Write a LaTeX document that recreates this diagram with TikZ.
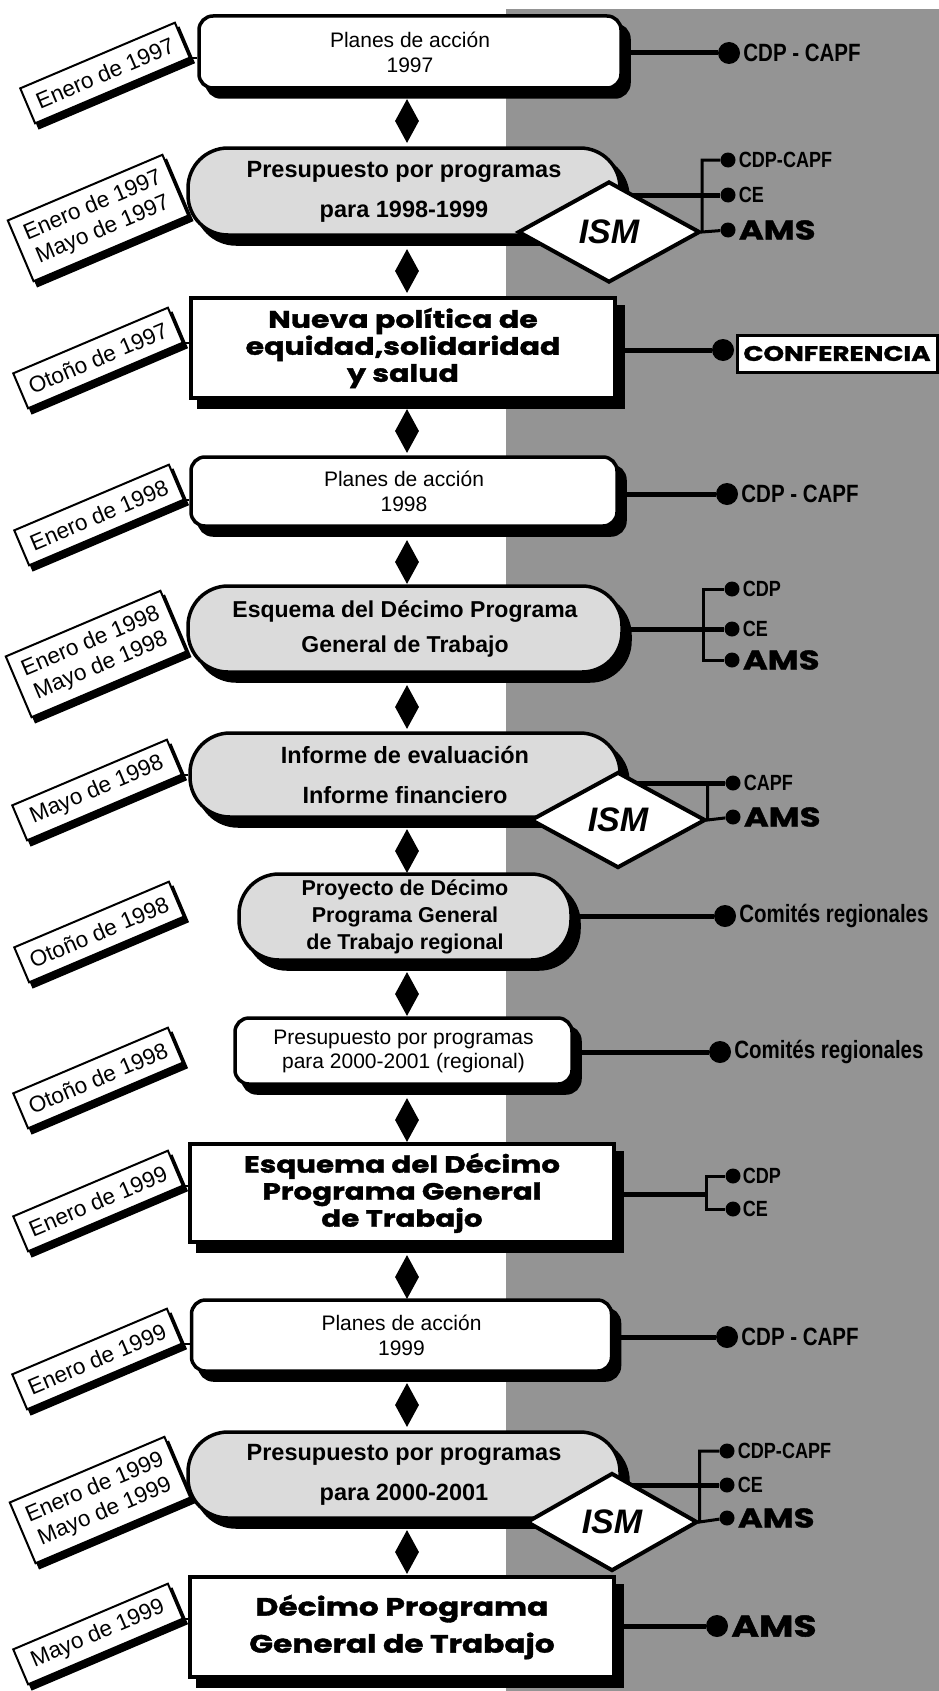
\documentclass[tikz,border=0pt]{standalone}
\usepackage{fontspec}
\setmainfont{Liberation Sans}
\newfontfamily\condfont{Liberation Sans}[FakeStretch=0.82]
\newfontfamily\heavyfont{Poppins}[FakeStretch=1.25, BoldFeatures={FakeBold=1.5}]
\usetikzlibrary{shapes.geometric,shadows}
\pgfdeclarelayer{bg}
\pgfdeclarelayer{lines}
\pgfsetlayers{bg,lines,main}
\definecolor{bggray}{gray}{0.58}
\definecolor{pillgray}{gray}{0.86}
\tikzset{
  box/.style={draw, line width=3.5pt, fill=white, align=center, inner sep=0pt,
     general shadow={draw=black, fill=black, opacity=1, shadow xshift=8pt, shadow yshift=-9pt}},
  planbox/.style={box, rounded corners=14pt, font=\fontsize{21}{25}\selectfont},
  pillbox/.style={box, rounded corners=40pt, fill=pillgray, font=\bfseries\fontsize{23.5}{40}\selectfont},
  rectbox/.style={box, line width=4pt},
  heavy/.style={font=\heavyfont\bfseries\fontsize{#1}{27}\selectfont},
  link/.style={diamond, fill=black, draw=none, inner sep=0pt, minimum width=24pt, minimum height=44pt},
  ism/.style={diamond, aspect=1.8, draw, line width=4pt, fill=white, inner sep=0pt, font=\bfseries\itshape\fontsize{34}{34}\selectfont},
  bigdot/.style={circle, fill=black, inner sep=0pt, minimum size=22pt},
  smalldot/.style={circle, fill=black, inner sep=0pt, minimum size=15pt},
  conn/.style={line width=5pt},
  brk/.style={line width=3pt},
  who/.style={anchor=west, inner sep=0pt, font=\condfont\bfseries\fontsize{25}{25}\selectfont},
  whosm/.style={anchor=west, inner sep=0pt, font=\condfont\bfseries\fontsize{22}{22}\selectfont},
  whoheavy/.style={anchor=west, inner sep=0pt, font=\heavyfont\bfseries\fontsize{27}{27}\selectfont},
  datebox/.style={draw, line width=2pt, fill=white, rotate=23, align=center, inner sep=0pt,
     minimum width=168pt, font=\fontsize{22.5}{26}\selectfont,
     general shadow={draw=black, fill=black, opacity=1, shadow xshift=4pt, shadow yshift=-5pt}},
  tick/.style={line width=1.5pt},
  confbox/.style={draw, line width=3pt, fill=white, inner sep=0pt, minimum width=200pt, minimum height=37pt,
     font=\heavyfont\bfseries\fontsize{21}{21}\selectfont}
}
\begin{document}
\begin{tikzpicture}[x=1pt,y=1pt]
\useasboundingbox (0,0) rectangle (939,-1691);
\begin{pgfonlayer}{bg}
\fill[bggray] (506,-9) rectangle (939,-1691);
\end{pgfonlayer}

% main boxes
\node[planbox, minimum width=422pt, minimum height=72pt] (b1) at (410,-52) {Planes de acción\\1997};
\node[pillbox, minimum width=432pt, minimum height=87pt] (b2) at (404,-191.5) {Presupuesto por programas\\para 1998-1999};
\node[rectbox, minimum width=424pt, minimum height=100pt, heavy=24] (b3) at (403,-348) {Nueva política de\\equidad,solidaridad\\y salud};
\node[planbox, minimum width=426pt, minimum height=69pt] (b4) at (404,-491.5) {Planes de acción\\1998};
\node[pillbox, minimum width=434pt, minimum height=86pt, font=\bfseries\fontsize{23}{35}\selectfont] (b5) at (405,-629) {Esquema del Décimo Programa\\General de Trabajo};
\node[pillbox, minimum width=430pt, minimum height=84pt, font=\bfseries\fontsize{23.5}{40}\selectfont] (b6) at (405,-775) {Informe de evaluación\\Informe financiero};
\node[pillbox, minimum width=332pt, minimum height=86pt, font=\bfseries\fontsize{21.5}{27}\selectfont] (b7) at (405,-917) {Proyecto de Décimo\\Programa General\\de Trabajo regional};
\node[planbox, minimum width=337pt, minimum height=66pt, font=\fontsize{21}{24}\selectfont] (b8) at (403.5,-1051) {Presupuesto por programas\\para 2000-2001 (regional)};
\node[rectbox, minimum width=424pt, minimum height=98pt, heavy=23.5] (b9) at (402,-1193) {Esquema del Décimo\\Programa General\\de Trabajo};
\node[planbox, minimum width=420pt, minimum height=71pt] (b10) at (401.5,-1335.5) {Planes de acción\\1999};
\node[pillbox, minimum width=432pt, minimum height=86pt] (b11) at (404,-1475) {Presupuesto por programas\\para 2000-2001};
\node[rectbox, minimum width=424pt, minimum height=100pt, font=\heavyfont\bfseries\fontsize{25}{37}\selectfont] (b12) at (402,-1627) {Décimo Programa\\General de Trabajo};

% links between boxes
\node[link] (k1) at (407,-121) {};
\node[link] (k2) at (407,-271) {};
\node[link] (k3) at (407,-431) {};
\node[link] (k4) at (407,-562) {};
\node[link] (k5) at (407,-707) {};
\node[link] (k6) at (407,-851) {};
\node[link] (k7) at (407,-994) {};
\node[link] (k8) at (407,-1120) {};
\node[link] (k9) at (407,-1277) {};
\node[link] (k10) at (407,-1405) {};
\node[link] (k11) at (407,-1552) {};

% ISM diamonds
\node[ism, minimum width=182pt, minimum height=101pt] (i1) at (609,-232) {ISM};
\node[ism, minimum width=175pt, minimum height=96pt] (i2) at (618,-820) {ISM};
\node[ism, minimum width=171pt, minimum height=98pt] (i3) at (612,-1522) {ISM};

% right side participants
\node[bigdot] (r1) at (729,-53) {};
\node[who] (n1) at ([xshift=3pt]r1.east) {CDP - CAPF};

\node[smalldot] (s2a) at (728,-160) {};
\node[smalldot] (s2b) at (728,-195) {};
\node[smalldot] (s2c) at (728,-230) {};
\node[whosm] (n2a) at ([xshift=3pt]s2a.east) {CDP-CAPF};
\node[whosm] (n2b) at ([xshift=3pt]s2b.east) {CE};
\node[whoheavy] (n2c) at ([xshift=3pt]s2c.east) {AMS};

\node[bigdot] (r3) at (723,-350) {};
\node[confbox] (cf) at (837,-353.5) {CONFERENCIA};

\node[bigdot] (r4) at (727,-494) {};
\node[who] (n4) at ([xshift=3pt]r4.east) {CDP - CAPF};

\node[smalldot] (s5a) at (732,-589) {};
\node[smalldot] (s5b) at (732,-629) {};
\node[smalldot] (s5c) at (732,-660) {};
\node[whosm] (n5a) at ([xshift=3pt]s5a.east) {CDP};
\node[whosm] (n5b) at ([xshift=3pt]s5b.east) {CE};
\node[whoheavy] (n5c) at ([xshift=3pt]s5c.east) {AMS};

\node[smalldot] (s6a) at (733,-783) {};
\node[smalldot] (s6b) at (733,-817) {};
\node[whosm] (n6a) at ([xshift=3pt]s6a.east) {CAPF};
\node[whoheavy] (n6b) at ([xshift=3pt]s6b.east) {AMS};

\node[bigdot] (r7) at (725,-916) {};
\node[who] (n7) at ([xshift=3pt]r7.east) {Comités regionales};

\node[bigdot] (r8) at (720,-1052) {};
\node[who] (n8) at ([xshift=3pt]r8.east) {Comités regionales};

\node[smalldot] (s9a) at (733,-1176) {};
\node[smalldot] (s9b) at (733,-1209) {};
\node[whosm] (n9a) at ([xshift=2pt]s9a.east) {CDP};
\node[whosm] (n9b) at ([xshift=2pt]s9b.east) {CE};

\node[bigdot] (r10) at (727,-1337) {};
\node[who] (n10) at ([xshift=3pt]r10.east) {CDP - CAPF};

\node[smalldot] (s11a) at (727,-1451) {};
\node[smalldot] (s11b) at (727,-1485) {};
\node[smalldot] (s11c) at (727,-1518) {};
\node[whosm] (n11a) at ([xshift=3pt]s11a.east) {CDP-CAPF};
\node[whosm] (n11b) at ([xshift=3pt]s11b.east) {CE};
\node[whoheavy] (n11c) at ([xshift=3pt]s11c.east) {AMS};

\node[bigdot] (r12) at (717,-1626) {};
\node[whoheavy, font=\heavyfont\bfseries\fontsize{30}{30}\selectfont] (n12) at ([xshift=3pt]r12.east) {AMS};

% date labels
\node[datebox, minimum height=38pt] (t1) at (105,-73) {Enero de 1997};
\node[datebox, minimum height=66pt] (t2) at (98,-218) {Enero de 1997\\Mayo de 1997};
\node[datebox, minimum height=38pt] (t3) at (98,-358) {Otoño de 1997};
\node[datebox, minimum height=38pt] (t4) at (99,-515) {Enero de 1998};
\node[datebox, minimum height=66pt] (t5) at (96,-654) {Enero de 1998\\Mayo de 1998};
\node[datebox, minimum height=38pt] (t6) at (97,-790) {Mayo de 1998};
\node[datebox, minimum height=38pt] (t7) at (99,-932) {Otoño de 1998};
\node[datebox, minimum height=38pt] (t8) at (98,-1078) {Otoño de 1998};
\node[datebox, minimum height=38pt] (t9) at (98,-1201) {Enero de 1999};
\node[datebox, minimum height=38pt] (t10) at (97,-1359) {Enero de 1999};
\node[datebox, minimum height=66pt] (t11) at (100,-1500) {Enero de 1999\\Mayo de 1999};
\node[datebox, minimum height=38pt] (t12) at (98,-1634) {Mayo de 1999};

% connectors
\begin{pgfonlayer}{lines}
\draw[conn] (b1.east |- r1) -- (r1);
\draw[conn] (b2.east |- s2b) -- (s2b);
\draw[brk] (s2a) -| (i1.east) -- (s2c);
\draw[conn] (b3.east |- r3) -- (r3);
\draw[conn] (b4.east |- r4) -- (r4);
\coordinate (j5) at (703,-629);
\draw[conn] (b5.east |- s5b) -- (s5b);
\draw[brk] (s5a) -| (j5) |- (s5c);
\draw[conn] (b6.east |- s6a) -- (s6a);
\draw[brk] (s6a) -| (i2.east) -- (s6b);
\draw[conn] (b7.east |- r7) -- (r7);
\draw[conn] (b8.east |- r8) -- (r8);
\coordinate (j9) at (706,-1194);
\draw[conn] (b9.east |- j9) -- (j9);
\draw[brk] (s9a) -| (j9) |- (s9b);
\draw[conn] (b10.east |- r10) -- (r10);
\draw[conn] (b11.east |- s11b) -- (s11b);
\draw[brk] (s11a) -| (i3.east) -- (s11c);
\draw[conn] (b12.east |- r12) -- (r12);
\foreach \n in {1,2,3,4,5,6,9,10,11,12}{
  \draw[tick] (t\n.south east) -- (t\n.south east -| b\n.west);
}
\end{pgfonlayer}
\end{tikzpicture}
\end{document}
